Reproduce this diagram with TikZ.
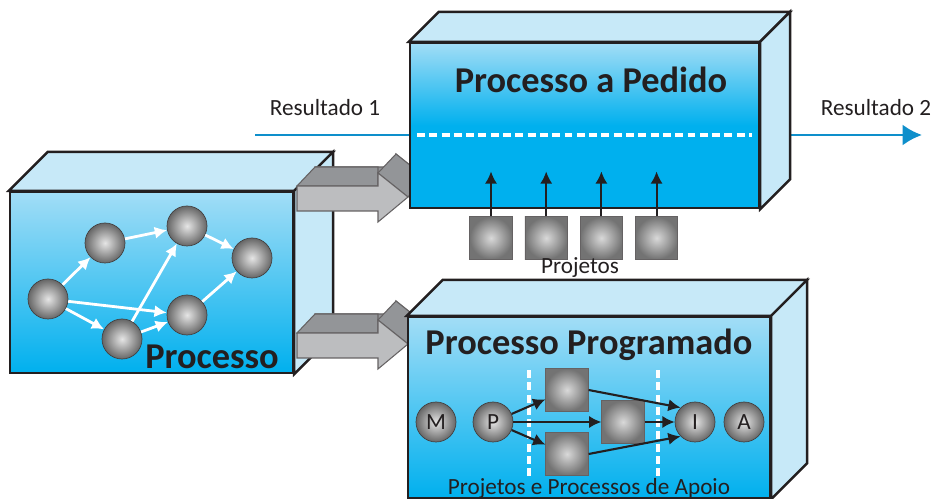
\documentclass[tikz,border=0pt]{standalone}
\usepackage{fontspec}
\setmainfont{Carlito}
\usepackage{tikz}
\usetikzlibrary{calc,positioning,arrows.meta}
\definecolor{azul}{HTML}{00B0EE}
\definecolor{azulmedio}{HTML}{A2DDF6}
\definecolor{azulclaro}{HTML}{C7E9F8}
\definecolor{linhaazul}{HTML}{0E8FCB}
\definecolor{cinzaclaro}{HTML}{BCBDBF}
\definecolor{cinzaescuro}{HTML}{939598}
\definecolor{texto}{HTML}{231F20}
\tikzstyle{frente}=[rectangle,line width=1.4pt,draw=texto,top color=azulmedio,bottom color=azul,inner sep=0pt]
\tikzstyle{face}=[line width=1.4pt,draw=texto,fill=azulclaro]
\tikzstyle{bola}=[circle,minimum size=0.8cm,inner sep=0pt,draw=texto!85,inner color=gray!20,outer color=gray!80!black]
\tikzstyle{cubo}=[rectangle,minimum size=0.85cm,inner sep=0pt,draw=texto!70,inner color=gray!30,outer color=gray!90!black]
\tikzset{
	titulo/.style={font=\fontsize{20.7}{24}\selectfont\bfseries,text=texto},
	rotulo/.style={font=\fontsize{13.2}{15}\selectfont,text=texto},
	fluxo/.style={-{Latex[length=7pt,width=7pt]},white,line width=1.6pt},
	liga/.style={-{Latex[length=7pt,width=7pt]},texto,line width=1.2pt},
	separa/.style={white,dash pattern=on 4.5pt off 2.5pt,line width=1.8pt},
	bloco/.style={draw=texto!70,line width=0.6pt,line join=miter}
}
% faces de cima e do lado de uma caixa
\newcommand\faces[2]{%
	\draw[face] (#1.north west) -- ++(#2,-#2) -- ($(#1.north east)+(#2,-#2)$) -- (#1.north east) -- cycle;
	\draw[face] (#1.north east) -- ++(#2,-#2) -- ($(#1.south east)+(#2,-#2)$) -- (#1.south east) -- cycle;}

\begin{document}
\begin{tikzpicture}[x=0.02cm,y=-0.02cm]
	\useasboundingbox (0,0) rectangle (943,499);
	\clip (0,0) rectangle (943,499);
	% processo
	\node (processo) [frente,minimum width=5.66cm,minimum height=3.62cm] at (151.5,282.5) {};
	\faces{processo}{39}
	\node (c1) [bola] at (48,299) {};
	\node (c2) [bola] at (105,243) {};
	\node (c3) [bola] at (187,226) {};
	\node (c4) [bola] at (252,258) {};
	\node (c5) [bola] at (187,315) {};
	\node (c6) [bola] at (122,339) {};
	\draw[fluxo] (c1) -- (c2);
	\draw[fluxo] (c2) -- (c3);
	\draw[fluxo] (c3) -- (c4);
	\draw[fluxo] (c1) -- (c5);
	\draw[fluxo] (c1) -- (c6);
	\draw[fluxo] (c6) -- (c3);
	\draw[fluxo] (c6) -- (c5);
	\draw[fluxo] (c5) -- (c4);
	\node (tproc) [titulo,anchor=east] at (285,357) {Processo};
	% setas cinzentas
	\foreach \dy in {0,147}{
		\begin{scope}[shift={(0,\dy)}]
			\draw[bloco,fill=cinzaescuro] (315,167) -- (396,167) -- (396,154) -- (426,178) -- (396,204) -- (396,192) -- (315,192) -- cycle;
			\draw[bloco,fill=cinzaescuro] (297,186) -- (315,167) -- (378,167) -- (378,186) -- cycle;
			\draw[bloco,fill=cinzaescuro] (378,173) -- (396,154) -- (426,178) -- (408,197) -- cycle;
			\draw[bloco,fill=cinzaclaro] (297,186) -- (378,186) -- (378,173) -- (408,197) -- (378,222) -- (378,211) -- (297,211) -- cycle;
		\end{scope}}
	% resultado
	\coordinate (r1) at (255,135);
	\coordinate (r2) at (922,135);
	\draw[linhaazul,line width=1.7pt,-{Latex[length=11pt,width=12pt]}] (r1) -- (r2);
	\node (res1) [rotulo] at (325,108) {Resultado 1};
	\node (res2) [rotulo] at (876,108) {Resultado 2};
	% processo a pedido
	\node (pedido) [frente,middle color=azul,minimum width=6.98cm,minimum height=3.3cm] at (584.5,125.5) {};
	\faces{pedido}{30}
	\draw[separa] (417,135) -- (752,135);
	\node (tpedido) [titulo] at (591,80) {Processo a Pedido};
	\node (pj1) [cubo] at (491,238) {};
	\node (pj2) [cubo,right=0.24cm of pj1] {};
	\node (pj3) [cubo,right=0.24cm of pj2] {};
	\node (pj4) [cubo,right=0.24cm of pj3] {};
	\foreach \p in {pj1,pj2,pj3,pj4}
		\draw[liga] (\p.north) -- ++(0,-45);
	\node (lproj) [rotulo] at (580,268) {Projetos};
	% processo programado
	\node (programado) [frente,minimum width=7.24cm,minimum height=3.62cm] at (589,407.5) {};
	\faces{programado}{36}
	\node (tprog) [titulo] at (589,345) {Processo Programado};
	\draw[separa] (529,370) -- (529,477);
	\draw[separa] (658,370) -- (658,477);
	\node (m) [bola,rotulo] at (436,422) {M};
	\node (p) [bola,rotulo] at (493,422) {P};
	\node (i) [bola,rotulo] at (695,422) {I};
	\node (a) [bola,rotulo] at (744,422) {A};
	\node (sq1) [cubo] at (567,390) {};
	\node (sq2) [cubo] at (623,422) {};
	\node (sq3) [cubo] at (567,454) {};
	\draw[liga] (p) -- (sq1);
	\draw[liga] (p) -- (sq2);
	\draw[liga] (p) -- (sq3);
	\draw[liga] (sq1.east) -- (i.135);
	\draw[liga] (sq2) -- (i);
	\draw[liga] (sq3.east) -- (i.225);
	\node (lapoio) [rotulo] at (589,488) {Projetos e Processos de Apoio};
\end{tikzpicture}
\end{document}
